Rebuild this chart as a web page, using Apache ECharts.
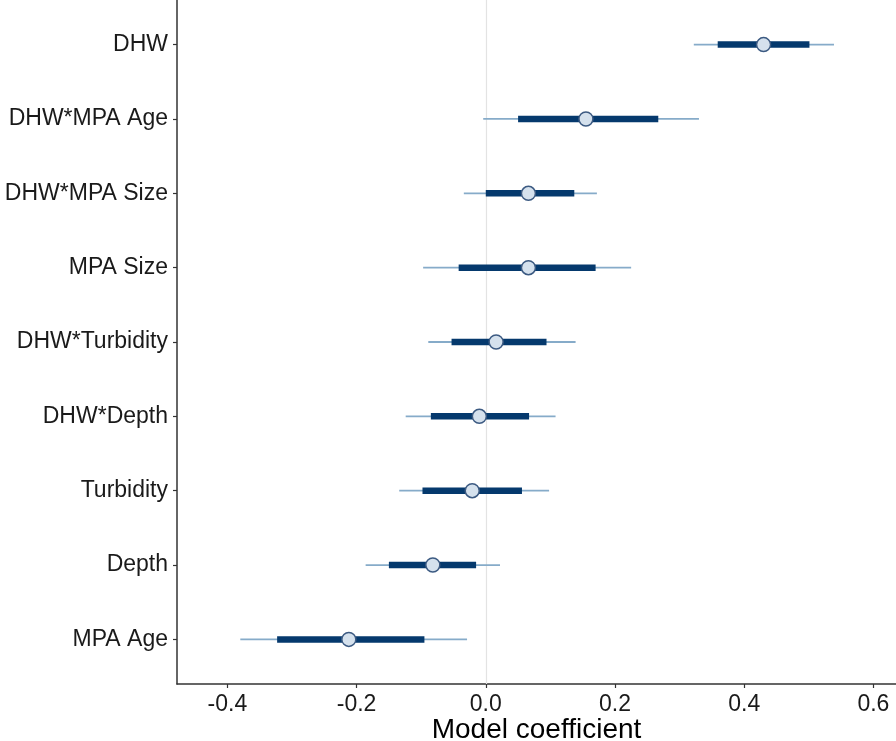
<!DOCTYPE html>
<html>
<head>
<meta charset="utf-8">
<script src="https://cdn.jsdelivr.net/npm/echarts@6/dist/echarts.min.js"></script>
<style>html,body{margin:0;padding:0;background:#fff;}#c{width:896px;height:741px;}</style>
</head>
<body>
<div id="c"></div>
<script>
var categories = ['DHW','DHW*MPA Age','DHW*MPA Size','MPA Size','DHW*Turbidity','DHW*Depth','Turbidity','Depth','MPA Age'];
var estimate = [0.430, 0.155, 0.066, 0.066, 0.016, -0.010, -0.021, -0.082, -0.212];
var lower95 = [0.322, -0.004, -0.034, -0.097, -0.089, -0.124, -0.134, -0.186, -0.380];
var upper95 = [0.539, 0.330, 0.172, 0.225, 0.139, 0.108, 0.098, 0.022, -0.029];
var lower50 = [0.359, 0.050, 0.000, -0.042, -0.053, -0.085, -0.098, -0.150, -0.323];
var upper50 = [0.501, 0.267, 0.137, 0.170, 0.094, 0.067, 0.056, -0.015, -0.095];
var xTicks = [-0.4, -0.2, 0.0, 0.2, 0.4, 0.6];

var data = categories.map(function(c, i){
  return [i + 1, lower95[i], lower50[i], estimate[i], upper50[i], upper95[i]];
});
var yPositions = categories.map(function(c, i){ return i + 1; });

var chart = echarts.init(document.getElementById('c'), null, {renderer: 'canvas'});
var font = "'Liberation Sans', Arial, sans-serif";
chart.setOption({
  animation: false,
  backgroundColor: '#ffffff',
  grid: {left: 177, right: 0, top: 0, bottom: 57, containLabel: false, outerBoundsMode: 'none'},
  xAxis: {
    type: 'value', min: -0.478, max: 0.635,
    axisLine: {show: true, onZero: false, lineStyle: {color: '#333333', width: 1.5}},
    axisTick: {show: true, length: 4, lineStyle: {color: '#333333', width: 1.2}, customValues: xTicks},
    axisLabel: {customValues: xTicks, fontSize: 23, color: '#1a1a1a', fontFamily: font, margin: 9,
      formatter: function(v){ return v.toFixed(1); }},
    splitLine: {show: false},
    name: 'Model coefficient', nameLocation: 'middle', nameGap: 46, nameMoveOverlap: false,
    nameTextStyle: {fontSize: 28, color: '#000000', fontFamily: font, verticalAlign: 'middle'}
  },
  yAxis: {
    type: 'value', min: 0.4, max: 9.6, inverse: true,
    axisLine: {show: true, onZero: false, lineStyle: {color: '#333333', width: 1.5}},
    axisTick: {show: true, length: 4, lineStyle: {color: '#333333', width: 1.2}, customValues: yPositions},
    axisLabel: {customValues: yPositions, fontSize: 23, color: '#1a1a1a', fontFamily: font, margin: 9,
      formatter: function(v){ return categories[Math.round(v) - 1] || ''; }},
    splitLine: {show: false}
  },
  series: [
    {
      type: 'line', data: [], silent: true, z: 1,
      markLine: {silent: true, symbol: 'none', label: {show: false},
        lineStyle: {color: '#e3e3e3', width: 1.2, type: 'solid'},
        data: [{xAxis: 0}]}
    },
    {
      type: 'custom', z: 5,
      data: data,
      encode: {x: [1, 5], y: 0},
      renderItem: function(params, api){
        var y = api.value(0);
        var p95a = api.coord([api.value(1), y]);
        var p50a = api.coord([api.value(2), y]);
        var pe = api.coord([api.value(3), y]);
        var p50b = api.coord([api.value(4), y]);
        var p95b = api.coord([api.value(5), y]);
        return {
          type: 'group',
          children: [
            {type: 'line', shape: {x1: p95a[0], y1: p95a[1], x2: p95b[0], y2: p95b[1]},
              style: {stroke: '#86abc9', lineWidth: 1.8}},
            {type: 'line', shape: {x1: p50a[0], y1: p50a[1], x2: p50b[0], y2: p50b[1]},
              style: {stroke: '#05396d', lineWidth: 6.5}},
            {type: 'circle', shape: {cx: pe[0], cy: pe[1], r: 7},
              style: {fill: '#d5e1ed', stroke: '#3c5a82', lineWidth: 1.5}}
          ]
        };
      }
    }
  ]
});
</script>
</body>
</html>
